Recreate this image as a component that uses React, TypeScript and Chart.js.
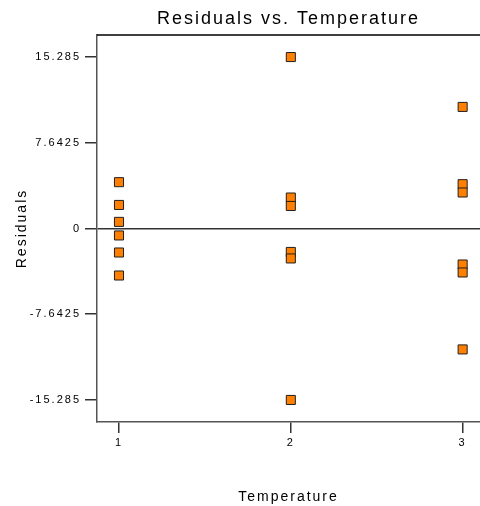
import React, { useEffect, useRef } from "react";
import { Chart, registerables } from "chart.js";

Chart.register(...registerables);

const temperature1 = [1, 1, 1, 1, 1, 1];
const residuals1 = [4.13, 2.1, 0.59, -0.62, -2.14, -4.19];
const temperature2 = [2, 2, 2, 2, 2, 2];
const residuals2 = [15.285, 2.76, 2.01, -2.09, -2.67, -15.285];
const temperature3 = [3, 3, 3, 3, 3, 3];
const residuals3 = [10.84, 3.95, 3.21, -3.21, -3.92, -10.78];

const yTickValues = [-15.285, -7.6425, 0, 7.6425, 15.285];
const yTickLabels = ["-15.285", "-7.6425", "0", "7.6425", "15.285"];
const xTickValues = [1, 2, 3];

const FONT = "'Liberation Sans', Arial, sans-serif";

const spacingPlugin = {
  id: "spacing",
  beforeDraw(chart: any) {
    (chart.ctx as any).letterSpacing = "2px";
  },
  afterDatasetsDraw(chart: any) {
    const { ctx, chartArea } = chart;
    ctx.save();
    ctx.strokeStyle = "#000";
    ctx.lineWidth = 1.5;
    ctx.beginPath();
    ctx.moveTo(chartArea.left, chartArea.top);
    ctx.lineTo(chartArea.right, chartArea.top);
    ctx.stroke();
    ctx.restore();
  },
};

export default function App() {
  const ref = useRef<HTMLCanvasElement>(null);
  useEffect(() => {
    if (!ref.current) return;
    const xs = [...temperature1, ...temperature2, ...temperature3];
    const ys = [...residuals1, ...residuals2, ...residuals3];
    const data = xs.map((x, i) => ({ x, y: ys[i] }));
    const chart = new Chart(ref.current, {
      type: "scatter",
      data: {
        datasets: [
          {
            data,
            pointStyle: "rect",
            pointRadius: 6.4,
            pointHoverRadius: 6.4,
            backgroundColor: "#FF8000",
            borderColor: "#202020",
            borderWidth: 1,
          },
        ],
      },
      plugins: [spacingPlugin],
      options: {
        animation: false,
        responsive: false,
        events: [],
        layout: { padding: 0, autoPadding: false },
        plugins: {
          legend: { display: false },
          tooltip: { enabled: false },
          title: {
            display: true,
            text: "Residuals vs. Temperature",
            fullSize: false,
            color: "#000",
            font: { family: FONT, size: 18, weight: "normal" },
            padding: { top: 8, bottom: 5.4 },
          },
        },
        scales: {
          x: {
            type: "linear",
            min: 0.872,
            max: 3.101,
            afterFit(scale: any) {
              scale.height = 84;
              scale.paddingLeft = 0;
              scale.paddingRight = 0;
            },
            afterBuildTicks(scale: any) {
              scale.ticks = xTickValues.map((v) => ({ value: v }));
            },
            ticks: {
              color: "#000",
              font: { family: FONT, size: 11 },
              padding: 3,
              callback: (v: any) => String(v),
            },
            grid: {
              drawOnChartArea: false,
              tickLength: 11,
              tickColor: "#333",
              lineWidth: 1.5,
            },
            border: { color: "#555", width: 1.5 },
            title: {
              display: true,
              text: "Temperature",
              color: "#000",
              font: { family: FONT, size: 14 },
              padding: { top: 0, bottom: 0 },
            },
          },
          y: {
            type: "linear",
            min: -17.25,
            max: 17.25,
            afterFit(scale: any) {
              scale.width = 97;
              scale.paddingTop = 0;
              scale.paddingBottom = 0;
            },
            afterBuildTicks(scale: any) {
              scale.ticks = yTickValues.map((v) => ({ value: v }));
            },
            ticks: {
              color: "#000",
              font: { family: FONT, size: 11 },
              padding: 4,
              callback: (v: any) => {
                const i = yTickValues.indexOf(v);
                return i >= 0 ? yTickLabels[i] : "";
              },
            },
            grid: {
              color: (c: any) => (c.tick && c.tick.value === 0 ? "#333" : "rgba(0,0,0,0)"),
              tickColor: "#333",
              tickLength: 12,
              lineWidth: 1.5,
            },
            border: { color: "#555", width: 1.5 },
            title: {
              display: true,
              text: "Residuals",
              color: "#000",
              font: { family: FONT, size: 14 },
              padding: { top: 14, bottom: 0 },
            },
          },
        },
      },
    } as any);
    return () => chart.destroy();
  }, []);
  return (
    <div style={{ position: "absolute", left: 0, top: 0, width: 480, height: 506 }}>
      <canvas ref={ref} width={480} height={506} style={{ display: "block" }} />
    </div>
  );
}
